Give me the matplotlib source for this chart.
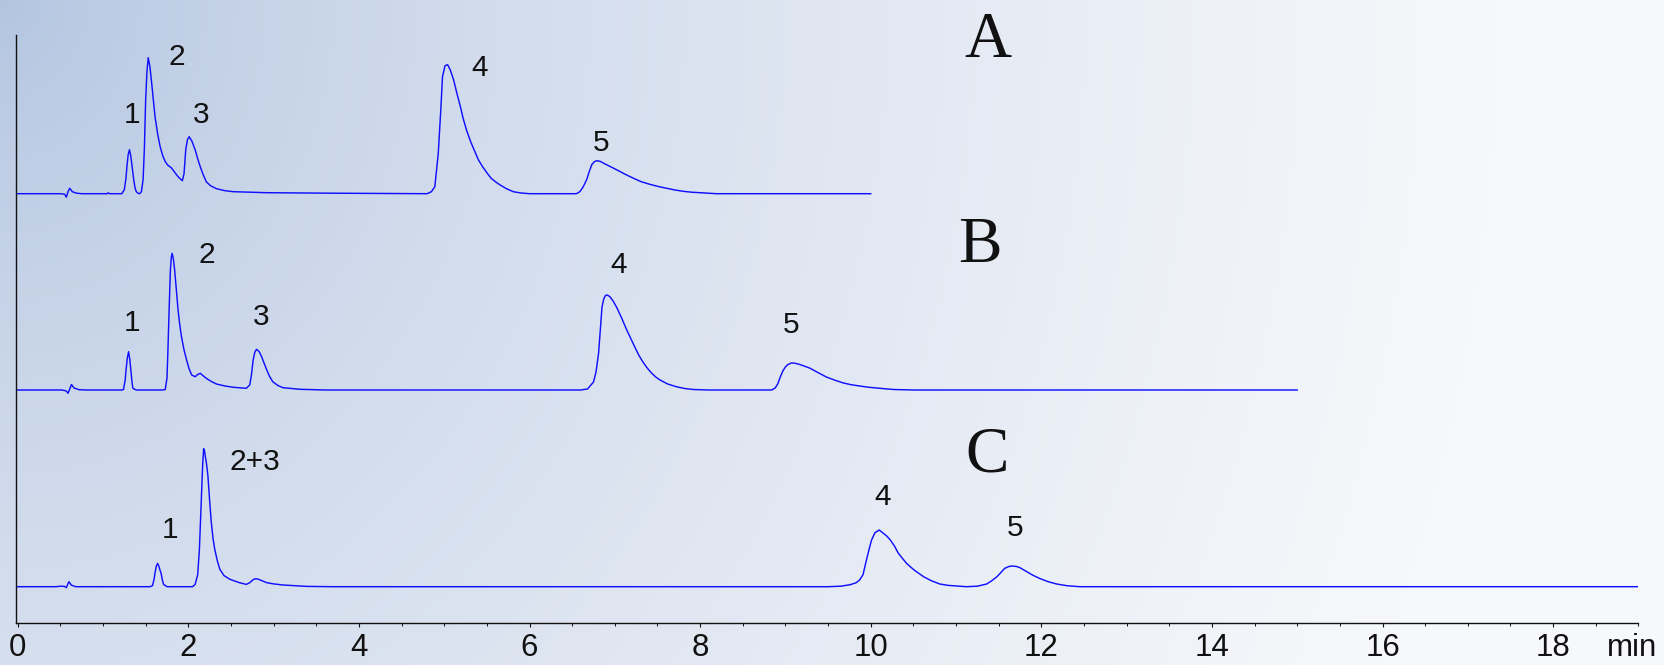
import matplotlib
matplotlib.use("Agg")
import numpy as np
import matplotlib.pyplot as plt
from matplotlib.ticker import MultipleLocator

# --- chromatogram A (0-10 min), signal above its own baseline
a_time = [0.00, 0.50, 0.55, 0.57, 0.59, 0.61, 0.64, 0.69, 0.75, 1.05, 1.06, 1.08,
          1.22, 1.25, 1.27, 1.28, 1.295, 1.31, 1.325, 1.34, 1.36, 1.375, 1.39, 1.41,
          1.43, 1.45, 1.47, 1.485, 1.50, 1.515, 1.53, 1.55, 1.57, 1.59, 1.61, 1.64,
          1.67, 1.70, 1.73, 1.76, 1.80, 1.84, 1.88, 1.91, 1.93, 1.95, 1.97, 1.99,
          2.01, 2.04, 2.08, 2.11, 2.14, 2.17, 2.21, 2.26, 2.33, 2.43, 2.53, 2.92,
          3.70, 4.80, 4.85, 4.89, 4.93, 4.96, 4.98, 5.01, 5.04, 5.07, 5.11, 5.15,
          5.19, 5.22, 5.26, 5.31, 5.36, 5.40, 5.45, 5.50, 5.55, 5.60, 5.65, 5.73,
          5.81, 5.90, 6.00, 6.55, 6.59, 6.63, 6.67, 6.70, 6.73, 6.76, 6.79, 6.83,
          6.88, 6.95, 7.02, 7.12, 7.22, 7.31, 7.41, 7.51, 7.61, 7.70, 7.80, 7.90,
          8.00, 8.19, 10.00]
a_signal = [0, 0, -0.5, -3.5, 2, 5.4, 2, 0.5, 0, 0, 0.8, 0,
            0, 4, 16, 27, 39, 44, 38, 28, 14, 6, 2, 0.5,
            0, 2, 14, 45, 94, 122, 136, 127, 111, 94, 77, 60,
            47, 38, 32, 28.5, 26, 21.5, 17, 14.5, 13, 20, 44, 54,
            57, 53, 44, 35, 27, 20, 12, 8, 5, 3, 2, 1,
            0.5, 0, 2, 7, 40, 84, 117, 128, 129, 124, 114, 100,
            87, 76, 64, 52, 42, 34, 27, 21, 15.4, 12, 9, 5,
            2, 0.7, 0, 0, 2, 7, 14, 22, 29, 32, 33, 32.3,
            30, 27, 24, 19.5, 15.4, 12, 9.4, 7.2, 5.4, 3.8, 2.4, 1.5,
            1, 0, 0]

# --- chromatogram B (0-15 min)
b_time = [0.00, 0.52, 0.57, 0.59, 0.61, 0.63, 0.66, 0.72, 0.80, 1.22, 1.24, 1.26,
          1.27, 1.285, 1.30, 1.315, 1.33, 1.34, 1.35, 1.39, 1.70, 1.73, 1.75, 1.76,
          1.775, 1.79, 1.80, 1.81, 1.825, 1.84, 1.86, 1.88, 1.90, 1.92, 1.95, 1.98,
          2.01, 2.04, 2.08, 2.11, 2.14, 2.17, 2.21, 2.27, 2.33, 2.43, 2.53, 2.68,
          2.72, 2.74, 2.76, 2.78, 2.80, 2.83, 2.86, 2.89, 2.92, 2.95, 2.99, 3.05,
          3.11, 3.31, 3.60, 6.60, 6.68, 6.75, 6.78, 6.81, 6.83, 6.85, 6.87, 6.89,
          6.91, 6.94, 6.98, 7.02, 7.08, 7.14, 7.19, 7.24, 7.28, 7.33, 7.38, 7.43,
          7.48, 7.53, 7.62, 7.72, 7.82, 7.92, 8.10, 8.84, 8.88, 8.91, 8.94, 8.97,
          9.00, 9.03, 9.07, 9.11, 9.15, 9.22, 9.29, 9.38, 9.48, 9.58, 9.68, 9.77,
          9.87, 9.97, 10.07, 10.17, 10.27, 10.50, 15.00]
b_signal = [0, 0, -1, -3.3, 1, 5.5, 2, 0.3, 0, 0, 0.5, 10,
            20, 32, 38.3, 30, 16.7, 8, 1.7, 0, 0, 0.5, 12, 36.7,
            80, 120, 132, 136.7, 131, 120, 100, 80, 65, 53.3, 40, 30,
            21, 15, 13.3, 15.5, 16.7, 14.5, 11.7, 8.5, 6, 4, 2.7, 1.7,
            5, 15, 30, 38, 40.7, 38.5, 33.3, 26.5, 20, 14, 8.3, 4.5,
            2.3, 0.7, 0, 0, 1, 8, 18, 37, 60, 83, 91, 94.5,
            95, 93.5, 89, 83, 72, 60, 51, 42, 35, 28, 22, 17,
            13, 10, 6, 3.3, 1.5, 0.5, 0, 0, 2, 6, 13, 19,
            23, 25.5, 27, 26.8, 26, 24, 21.7, 17.5, 13, 9.8, 7, 5.3,
            4, 2.8, 2, 1.2, 0.5, 0, 0]

# --- chromatogram C (0-19 min)
c_time = [0.00, 0.45, 0.50, 0.55, 0.57, 0.60, 0.63, 0.68, 1.55, 1.58, 1.60, 1.61,
          1.625, 1.64, 1.655, 1.67, 1.68, 1.695, 1.71, 1.75, 2.05, 2.08, 2.11, 2.13,
          2.145, 2.16, 2.17, 2.18, 2.19, 2.20, 2.215, 2.23, 2.25, 2.27, 2.29, 2.31,
          2.34, 2.37, 2.42, 2.49, 2.60, 2.68, 2.72, 2.76, 2.79, 2.82, 2.85, 2.92,
          3.00, 3.11, 3.39, 3.70, 9.50, 9.65, 9.76, 9.83, 9.87, 9.91, 9.95, 9.98,
          10.01, 10.05, 10.10, 10.15, 10.19, 10.23, 10.28, 10.32, 10.37, 10.42, 10.47, 10.52,
          10.57, 10.62, 10.71, 10.81, 10.91, 11.01, 11.12, 11.25, 11.36, 11.42, 11.48, 11.53,
          11.57, 11.62, 11.66, 11.71, 11.75, 11.83, 11.90, 11.98, 12.08, 12.18, 12.30, 12.45,
          19.00]
c_signal = [0, 0, 0.5, 0.3, -1, 5, 1.5, 0, 0, 1, 8, 14,
            20.5, 23.3, 20.5, 16, 14, 7, 2.3, 0, 0, 2.3, 12, 37.3,
            70, 104, 125, 138, 136, 130, 122, 110.7, 86, 64, 48, 37.3,
            26, 17.3, 11, 7.3, 4, 2.3, 4, 7, 8, 7.5, 6.5, 4,
            2.8, 1.7, 0.3, 0, 0, 0.5, 2, 4, 6.7, 12, 26.7, 37,
            46.7, 54, 56.7, 53.3, 50.5, 46.7, 40.5, 34, 28.5, 23.4, 19.5, 16,
            13, 10, 6, 2.7, 1.3, 0.7, 0, 0.5, 2.7, 6, 10, 14.5,
            18.3, 20.2, 20.7, 20.2, 19, 15, 11.5, 8.3, 5, 2.7, 1, 0,
            0]

# peak labels
a_labels = ["1", "2", "3", "4", "5"]
b_labels = ["1", "2", "3", "4", "5"]
c_labels = ["1", "2+3", "4", "5"]
panel_names = ["A", "B", "C"]

# layout (data units of the axes: minutes / px above the time axis)
baselines = [429, 232.7, 36]
a_label_pos = [(1.34, 500), (1.86, 558), (2.15, 500), (5.41, 546.5), (6.84, 472)]
b_label_pos = [(1.34, 291.5), (2.22, 360), (2.86, 298), (7.04, 350), (9.07, 290)]
c_label_pos = [(1.79, 85), (2.78, 153), (10.14, 118), (11.69, 87)]
panel_pos = [(11.37, 566), (11.28, 361), (11.36, 151)]

plt.rcParams['font.family'] = ['Liberation Sans', 'DejaVu Sans']

W, H = 1665, 665
fig = plt.figure(figsize=(W / 100, H / 100), dpi=100)

# soft blue-to-white background
bg = fig.add_axes([0, 0, 1, 1], zorder=-10)
yy, xx = np.mgrid[0:H, 0:W]
d = np.sqrt((xx / W) ** 2 + (yy / H * 0.35) ** 2)
f = np.clip(d / 0.9, 0, 1) ** 0.7
dark = np.array([178, 196, 224]) / 255
light = np.array([247, 248, 251]) / 255
img = dark + (light - dark) * f[..., None]
bg.imshow(img, aspect='auto', extent=[0, 1, 0, 1], origin='upper')
bg.axis('off')

ax = fig.add_axes([16 / W, 42.3 / H, 1622.4 / W, 587.7 / H])
ax.set_facecolor('none')

traces = [(a_time, a_signal), (b_time, b_signal), (c_time, c_signal)]
for (t, s), base in zip(traces, baselines):
    ax.plot(t, np.array(s) + base, color='#1010ff', lw=1.05,
            solid_joinstyle='round')

for labels, pos in [(a_labels, a_label_pos), (b_labels, b_label_pos), (c_labels, c_label_pos)]:
    for lab, (x, y) in zip(labels, pos):
        ax.text(x, y, lab, ha='center', va='baseline', fontsize=21.5, color='#111111')

for name, (x, y) in zip(panel_names, panel_pos):
    ax.text(x, y, name, ha='center', va='baseline', fontsize=47,
            family='Liberation Serif', color='#111111')

ax.set_xlim(-0.02, 19.0)
ax.set_ylim(0, 587.7)
ax.xaxis.set_major_locator(MultipleLocator(2))
ax.xaxis.set_minor_locator(MultipleLocator(0.5))
ax.tick_params(axis='x', which='major', length=3, width=0.8, direction='out',
               pad=4.5, labelsize=22.5, colors='#111111')
ax.tick_params(axis='x', which='minor', length=2, width=0.7, direction='out', colors='#111111')
ax.set_yticks([])
for side in ['top', 'right']:
    ax.spines[side].set_visible(False)
for side in ['left', 'bottom']:
    ax.spines[side].set_linewidth(1.0)
    ax.spines[side].set_color('#111111')

ax.annotate('min', xy=(18.93, 0), xycoords=('data', 'axes fraction'),
            xytext=(0, -7.5), textcoords='offset points',
            ha='center', va='top', fontsize=22.5, color='#111111')

fig.savefig('out.png', dpi=100)
